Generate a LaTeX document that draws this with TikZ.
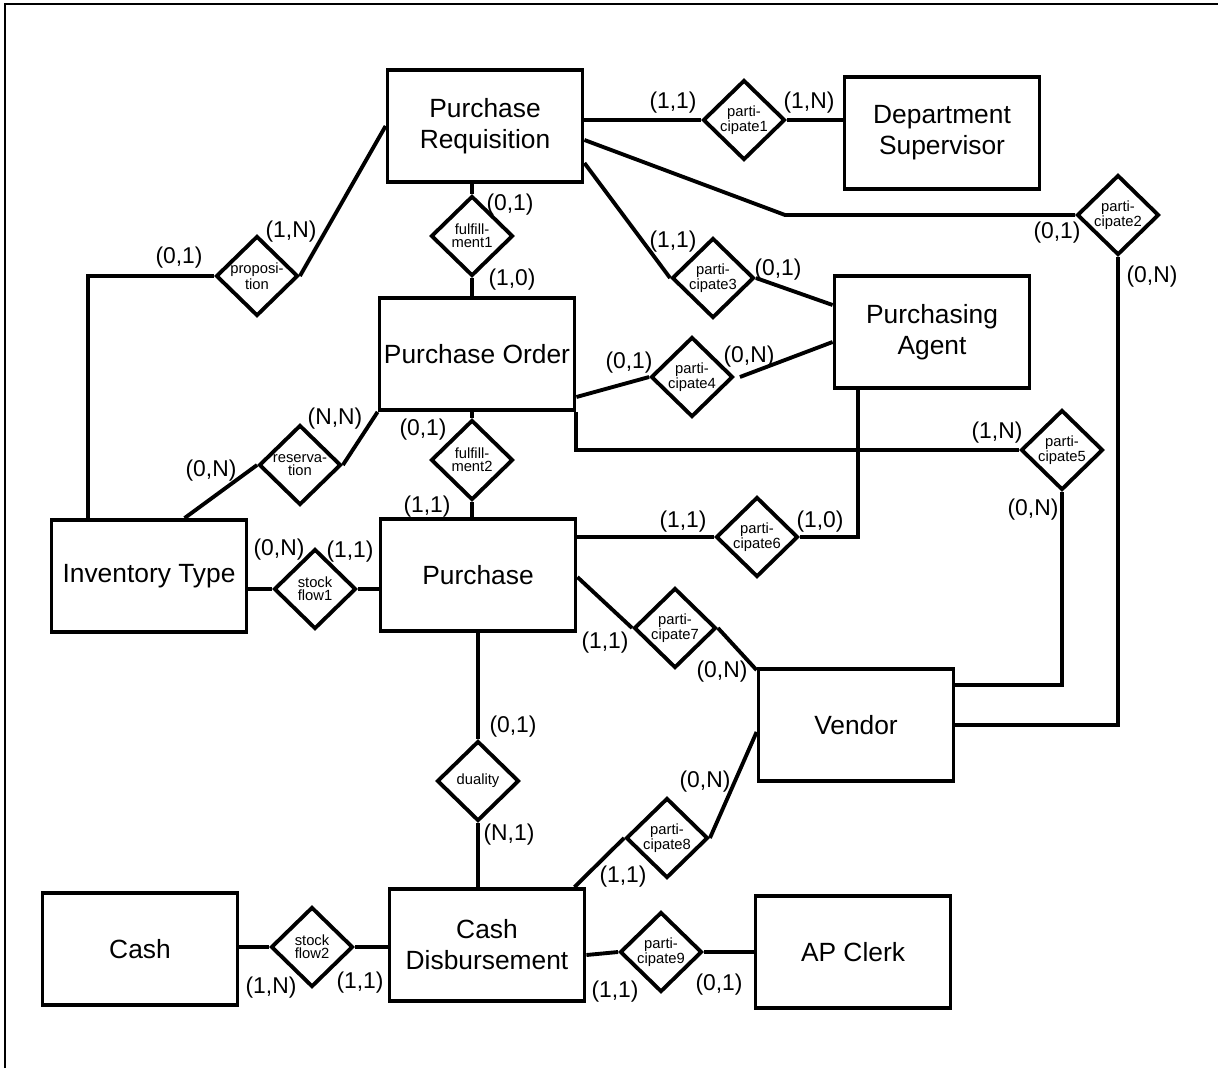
\documentclass[tikz,border=0pt]{standalone}
\usepackage{fontspec}
\setmainfont{Liberation Sans}
\usepackage{tikz}
\usetikzlibrary{calc,positioning,shapes.geometric}

\begin{document}
\begin{tikzpicture}[x=0.02cm,y=-0.02cm,line width=2.2pt,ent/.style={draw,rectangle,inner xsep=1pt,minimum width=3.9cm,minimum height=2.24cm,align=center,font=\fontsize{15}{17.6}\selectfont},rel/.style={draw,diamond,inner sep=0pt,minimum width=1.64cm,minimum height=1.6cm,align=center,font=\fontsize{8.4}{7.4}\selectfont},card/.style={inner sep=0pt,font=\fontsize{13}{15}\selectfont}]

\useasboundingbox (0,0) rectangle (1219,1068);
\draw[line width=1.3pt] (5,1068) -- (5,4) -- (1218,4);

  \node[ent] (preq) at (485,126) {Purchase\\Requisition};
  \node[ent] (ds) at (942,133) {Department\\Supervisor};
  \node[ent] (po) at (477,354) {Purchase Order};
  \node[ent] (pa) at (932,332) {Purchasing\\Agent};
  \node[ent] (inv) at (149,576) {Inventory Type};
  \node[ent] (pur) at (478,575) {Purchase};
  \node[ent] (ven) at (856,725) {Vendor};
  \node[ent] (cash) at (140,949) {Cash};
  \node[ent] (cd) at (487,945) {Cash\\Disbursement};
  \node[ent] (apc) at (853,952) {AP Clerk};

  \node[rel] (ful1) at (472,236) {fulfill-\\ment1};
  \node[rel] (ful2) at (472,460) {fulfill-\\ment2};
  \node[rel] (par1) at (744,120) {parti-\\cipate1};
  \node[rel] (par2) at (1118,215) {parti-\\cipate2};
  \node[rel] (par3) at (713,278) {parti-\\cipate3};
  \node[rel] (par4) at (692,377) {parti-\\cipate4};
  \node[rel] (par5) at (1062,450) {parti-\\cipate5};
  \node[rel] (par6) at (757,537) {parti-\\cipate6};
  \node[rel] (par7) at (675,628) {parti-\\cipate7};
  \node[rel] (par8) at (667,838) {parti-\\cipate8};
  \node[rel] (par9) at (661,952) {parti-\\cipate9};
  \node[rel] (prop) at (257,276) {proposi-\\tion};
  \node[rel] (res) at (300,465) {reserva-\\tion};
  \node[rel] (sf1) at (315,589) {stock\\flow1};
  \node[rel] (sf2) at (312,947) {stock\\flow2};
  \node[rel] (dual) at (478,781) {duality};

  \draw (preq.east |- par1) -- (par1.west);
  \draw (par1.east) -- (ds.west |- par1.east);
  \draw ($(preq.east)+(0,14)$) -- ($(par2.west)+(-290,0)$) -- (par2.west);
  \draw ($(preq.east)+(0,37)$) -- (par3.west);
  \draw (par3.east) -- ($(pa.west)+(0,-27)$);
  \draw (preq.south -| ful1) -- (ful1.north);
  \draw (ful1.south) -- (ful1.south |- po.north);
  \draw ($(inv.north west)+(38,0)$) |- (prop.west);
  \draw (prop.east) -- (preq.west);
  \draw ($(inv.north west)+(135,0)$) -- (res.west);
  \draw (res.east) -- (po.south west);
  \draw (po.south -| ful2) -- (ful2.north);
  \draw (ful2.south) -- (ful2.south |- pur.north);
  \draw ($(po.east)+(0,43)$) -- (par4.west);
  \draw ($(par4.east)+(5,0)$) -- ($(pa.west)+(0,10)$);
  \draw (po.south east) |- (par5.west);
  \draw (par5.south) |- ($(ven.east)+(0,-40)$);
  \draw (par2.south) |- (ven.east);
  \draw ($(pa.south west)+(25,0)$) |- (par6.east);
  \draw (pur.east |- par6) -- (par6.west);
  \draw (inv.east |- sf1) -- (sf1.west);
  \draw (sf1.east) -- (pur.west |- sf1);
  \draw ($(pur.north east)+(0,60)$) -- (par7.west);
  \draw (par7.east) -- ($(ven.north west)+(0,3)$);
  \draw (pur.south -| dual) -- (dual.north);
  \draw (dual.south) -- (dual.south |- cd.north);
  \draw ($(cd.north east)+(-12,0)$) -- (par8.west);
  \draw (par8.east) -- ($(ven.west)+(0,7)$);
  \draw (cash.east |- sf2) -- (sf2.west);
  \draw (sf2.east) -- (cd.west |- sf2);
  \draw ($(cd.east)+(0,10)$) -- (par9.west);
  \draw (par9.east) -- (apc.west |- par9);

  \node[card] (c1) at (673,103) {(1,1)};
  \node[card] (c2) at (809,103) {(1,N)};
  \node[card] (c3) at (510,205) {(0,1)};
  \node[card] (c4) at (512,280) {(1,0)};
  \node[card] (c5) at (673,242) {(1,1)};
  \node[card] (c6) at (778,270) {(0,1)};
  \node[card] (c7) at (1057,233) {(0,1)};
  \node[card] (c8) at (1152,277) {(0,N)};
  \node[card] (c9) at (997,433) {(1,N)};
  \node[card] (c10) at (1033,510) {(0,N)};
  \node[card] (c11) at (629,363) {(0,1)};
  \node[card] (c12) at (749,357) {(0,N)};
  \node[card] (c13) at (683,522) {(1,1)};
  \node[card] (c14) at (820,522) {(1,0)};
  \node[card] (c15) at (179,258) {(0,1)};
  \node[card] (c16) at (291,232) {(1,N)};
  \node[card] (c17) at (335,419) {(N,N)};
  \node[card] (c18) at (211,471) {(0,N)};
  \node[card] (c19) at (423,430) {(0,1)};
  \node[card] (c20) at (427,507) {(1,1)};
  \node[card] (c21) at (279,550) {(0,N)};
  \node[card] (c22) at (350,552) {(1,1)};
  \node[card] (c23) at (605,643) {(1,1)};
  \node[card] (c24) at (722,672) {(0,N)};
  \node[card] (c25) at (513,727) {(0,1)};
  \node[card] (c26) at (509,835) {(N,1)};
  \node[card] (c27) at (705,782) {(0,N)};
  \node[card] (c28) at (623,877) {(1,1)};
  \node[card] (c29) at (271,988) {(1,N)};
  \node[card] (c30) at (360,983) {(1,1)};
  \node[card] (c31) at (615,992) {(1,1)};
  \node[card] (c32) at (719,985) {(0,1)};
\end{tikzpicture}
\end{document}
